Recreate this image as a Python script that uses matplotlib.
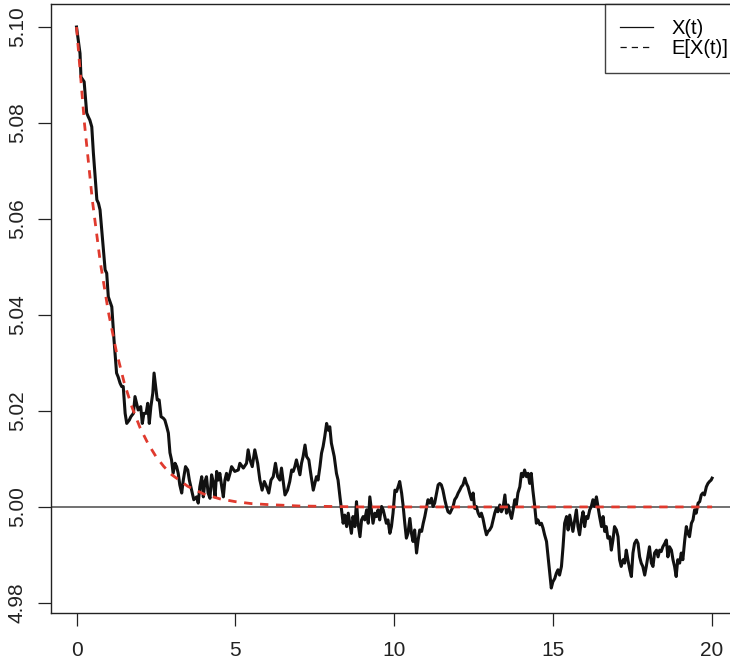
import numpy as np
import matplotlib
matplotlib.use("Agg")
import matplotlib.pyplot as plt
from matplotlib.lines import Line2D

plt.rcParams['font.family'] = ['Liberation Sans', 'DejaVu Sans']

# ---- data ----
t_obs = [0.00, 0.11, 0.14, 0.24, 0.32, 0.37, 0.42, 0.48, 0.53, 0.64, 0.69, 0.74, 0.84, 0.90, 0.95,
         1.00, 1.11, 1.18, 1.26, 1.31, 1.37, 1.42, 1.47, 1.53, 1.58, 1.66, 1.71, 1.79, 1.84, 1.89,
         1.94, 2.02, 2.07, 2.12, 2.19, 2.24, 2.29, 2.34, 2.40, 2.44, 2.49, 2.54, 2.60, 2.66, 2.73,
         2.78, 2.84, 2.89, 2.94, 2.99, 3.04, 3.10, 3.15, 3.20, 3.25, 3.31, 3.36, 3.43, 3.50, 3.55,
         3.62, 3.69, 3.78, 3.83, 3.88, 3.94, 3.99, 4.04, 4.09, 4.14, 4.20, 4.25, 4.30, 4.36, 4.41,
         4.46, 4.51, 4.57, 4.62, 4.67, 4.72, 4.77, 4.83, 4.88, 4.98, 5.09, 5.14, 5.25, 5.35, 5.40,
         5.46, 5.53, 5.61, 5.70, 5.77, 5.84, 5.91, 5.98, 6.05, 6.12, 6.19, 6.26, 6.33, 6.40, 6.45,
         6.50, 6.56, 6.64, 6.71, 6.77, 6.82, 6.87, 6.92, 6.97, 7.03, 7.08, 7.13, 7.19, 7.24, 7.31,
         7.37, 7.45, 7.50, 7.55, 7.60, 7.66, 7.71, 7.76, 7.81, 7.87, 7.92, 7.97, 8.02, 8.11, 8.18,
         8.23, 8.29, 8.34, 8.39, 8.44, 8.50, 8.55, 8.60, 8.65, 8.70, 8.76, 8.81, 8.86, 8.92, 8.97,
         9.02, 9.07, 9.13, 9.18, 9.23, 9.28, 9.33, 9.39, 9.44, 9.49, 9.54, 9.60, 9.65, 9.70, 9.75,
         9.80, 9.86, 9.91, 9.96, 10.02, 10.07, 10.12, 10.17, 10.23, 10.28, 10.33, 10.38, 10.43, 10.49, 10.54,
         10.59, 10.64, 10.70, 10.75, 10.80, 10.86, 10.91, 10.96, 11.01, 11.06, 11.12, 11.17, 11.22, 11.27, 11.33,
         11.38, 11.43, 11.48, 11.53, 11.59, 11.64, 11.69, 11.75, 11.80, 11.85, 11.90, 11.96, 12.01, 12.06, 12.11,
         12.16, 12.22, 12.27, 12.32, 12.37, 12.43, 12.48, 12.53, 12.58, 12.64, 12.69, 12.74, 12.79, 12.85, 12.90,
         12.95, 13.00, 13.06, 13.11, 13.16, 13.21, 13.26, 13.32, 13.37, 13.42, 13.48, 13.53, 13.58, 13.63, 13.69,
         13.74, 13.79, 13.84, 13.89, 13.95, 14.00, 14.05, 14.10, 14.16, 14.21, 14.26, 14.31, 14.36, 14.42, 14.47,
         14.52, 14.58, 14.63, 14.68, 14.73, 14.79, 14.84, 14.89, 14.94, 14.99, 15.05, 15.10, 15.15, 15.20, 15.26,
         15.31, 15.36, 15.42, 15.47, 15.52, 15.57, 15.62, 15.68, 15.73, 15.78, 15.83, 15.89, 15.94, 15.99, 16.04,
         16.09, 16.15, 16.20, 16.25, 16.30, 16.36, 16.41, 16.46, 16.52, 16.57, 16.62, 16.67, 16.72, 16.78, 16.83,
         16.88, 16.93, 16.99, 17.04, 17.09, 17.14, 17.20, 17.25, 17.30, 17.35, 17.41, 17.46, 17.51, 17.56, 17.62,
         17.67, 17.72, 17.77, 17.82, 17.88, 17.93, 17.98, 18.03, 18.09, 18.14, 18.19, 18.25, 18.30, 18.35, 18.40,
         18.45, 18.51, 18.56, 18.61, 18.66, 18.72, 18.77, 18.82, 18.87, 18.92, 18.98, 19.03, 19.08, 19.14, 19.19,
         19.24, 19.29, 19.35, 19.40, 19.45, 19.50, 19.56, 19.61, 19.66, 19.71, 19.76, 19.82, 19.87, 19.92, 19.97,
         20.00]

x_obs = [5.1000, 5.0945, 5.0896, 5.0886, 5.0821, 5.0813, 5.0806, 5.0792, 5.0738, 5.0640, 5.0633, 5.0619, 5.0542, 5.0494, 5.0487,
         5.0438, 5.0417, 5.0348, 5.0279, 5.0271, 5.0258, 5.0251, 5.0251, 5.0195, 5.0174, 5.0181, 5.0188, 5.0195, 5.0230, 5.0216,
         5.0202, 5.0209, 5.0174, 5.0195, 5.0195, 5.0216, 5.0174, 5.0209, 5.0237, 5.0279, 5.0251, 5.0223, 5.0223, 5.0188, 5.0185,
         5.0181, 5.0167, 5.0154, 5.0113, 5.0098, 5.0070, 5.0091, 5.0084, 5.0070, 5.0046, 5.0029, 5.0056, 5.0084, 5.0077, 5.0056,
         5.0035, 5.0015, 5.0021, 5.0008, 5.0042, 5.0063, 5.0021, 5.0053, 5.0063, 5.0029, 5.0018, 5.0067, 5.0053, 5.0021, 5.0074,
         5.0056, 5.0070, 5.0042, 5.0021, 5.0056, 5.0070, 5.0056, 5.0070, 5.0084, 5.0074, 5.0077, 5.0091, 5.0081, 5.0091, 5.0119,
         5.0098, 5.0084, 5.0119, 5.0091, 5.0056, 5.0035, 5.0053, 5.0042, 5.0029, 5.0056, 5.0063, 5.0091, 5.0063, 5.0056, 5.0081,
         5.0056, 5.0025, 5.0035, 5.0053, 5.0077, 5.0074, 5.0084, 5.0098, 5.0084, 5.0067, 5.0091, 5.0105, 5.0129, 5.0105, 5.0098,
         5.0070, 5.0035, 5.0049, 5.0063, 5.0056, 5.0084, 5.0112, 5.0126, 5.0146, 5.0174, 5.0160, 5.0167, 5.0133, 5.0105, 5.0070,
         5.0056, 5.0021, 4.9994, 4.9966, 4.9983, 4.9959, 4.9987, 4.9966, 4.9945, 4.9980, 4.9959, 5.0011, 4.9966, 4.9938, 4.9973,
         4.9980, 4.9973, 4.9994, 4.9966, 5.0021, 4.9994, 4.9966, 4.9987, 4.9980, 4.9994, 4.9973, 5.0001, 4.9994, 4.9980, 4.9966,
         4.9973, 4.9945, 4.9959, 4.9987, 5.0035, 5.0032, 5.0042, 5.0053, 5.0029, 5.0001, 4.9966, 4.9935, 4.9945, 4.9976, 4.9945,
         4.9928, 4.9952, 4.9904, 4.9931, 4.9952, 4.9949, 4.9966, 4.9980, 4.9997, 5.0015, 5.0008, 5.0018, 5.0001, 5.0008, 5.0029,
         5.0046, 5.0049, 5.0046, 5.0035, 5.0015, 5.0001, 4.9990, 4.9987, 4.9994, 5.0001, 5.0015, 5.0021, 5.0029, 5.0035, 5.0042,
         5.0046, 5.0060, 5.0049, 5.0042, 5.0029, 5.0015, 5.0029, 4.9997, 5.0001, 4.9987, 4.9980, 4.9987, 4.9976, 4.9956, 4.9942,
         4.9949, 4.9952, 4.9959, 4.9973, 4.9987, 4.9997, 4.9990, 5.0004, 4.9990, 4.9997, 5.0025, 4.9987, 5.0004, 4.9990, 4.9976,
         4.9994, 5.0015, 5.0004, 5.0029, 5.0042, 5.0070, 5.0063, 5.0077, 5.0063, 5.0070, 5.0049, 5.0070, 5.0035, 5.0001, 4.9966,
         4.9973, 4.9963, 4.9966, 4.9956, 4.9942, 4.9928, 4.9896, 4.9862, 4.9831, 4.9844, 4.9851, 4.9862, 4.9869, 4.9858, 4.9876,
         4.9917, 4.9966, 4.9980, 4.9952, 4.9983, 4.9966, 4.9949, 4.9973, 4.9994, 4.9959, 4.9942, 4.9973, 4.9990, 4.9959, 4.9980,
         4.9976, 4.9994, 5.0001, 5.0015, 5.0001, 5.0021, 5.0001, 4.9980, 4.9959, 4.9980, 4.9949, 4.9959, 4.9935, 4.9938, 4.9910,
         4.9931, 4.9959, 4.9952, 4.9938, 4.9890, 4.9876, 4.9890, 4.9883, 4.9910, 4.9890, 4.9869, 4.9855, 4.9904, 4.9924, 4.9931,
         4.9924, 4.9896, 4.9883, 4.9876, 4.9858, 4.9876, 4.9896, 4.9917, 4.9883, 4.9876, 4.9904, 4.9910, 4.9896, 4.9910, 4.9907,
         4.9917, 4.9924, 4.9931, 4.9896, 4.9917, 4.9910, 4.9890, 4.9876, 4.9855, 4.9890, 4.9883, 4.9904, 4.9890, 4.9931, 4.9959,
         4.9945, 4.9938, 4.9966, 4.9973, 4.9994, 4.9987, 5.0008, 5.0011, 5.0025, 5.0029, 5.0025, 5.0042, 5.0049, 5.0053, 5.0056,
         5.0060]

t_exp = [0.0, 0.25, 0.5, 0.75, 1.0, 1.25, 1.5, 1.75, 2.0, 2.25, 2.5, 2.75, 3.0, 3.5, 4.0, 4.5,
         5.0, 5.5, 6.0, 7.0, 8.0, 9.0, 20.0]
x_exp = [5.1000, 5.0799, 5.0638, 5.0509, 5.0407, 5.0325, 5.0259, 5.0207, 5.0165, 5.0132, 5.0105, 5.0084,
         5.0067, 5.0043, 5.0027, 5.0017, 5.0011, 5.0007, 5.0005, 5.0002, 5.0001, 5.0000, 5.0000]

mu = 5.0
x_ticks = [0, 5, 10, 15, 20]
y_ticks = [4.98, 5.00, 5.02, 5.04, 5.06, 5.08, 5.10]
y_ticklabels = ["4.98", "5.00", "5.02", "5.04", "5.06", "5.08", "5.10"]
legend_labels = ["X(t)", "E[X(t)]"]

# ---- figure ----
W, H = 730, 665
dpi = 100
fig = plt.figure(figsize=(W / dpi, H / dpi), dpi=dpi)
ax_left, ax_right, ax_bottom, ax_top = 51.1, 737.5, 613.0, 4.0
ax = fig.add_axes([ax_left / W, 1 - ax_bottom / H, (ax_right - ax_left) / W, (ax_bottom - ax_top) / H])

ax.set_xlim(-0.8, 20.8)
ax.set_ylim(4.9779, 5.1048)

ax.axhline(mu, color="#4a4a4a", lw=1.1, zorder=1)
ax.plot(t_obs, x_obs, color="#111111", lw=2.2, solid_joinstyle="round", zorder=2)
red_lw = 2.0
ax.plot(t_exp, x_exp, color="#e03a2e", lw=red_lw, dashes=(6.0 / red_lw, 5.5 / red_lw), zorder=3)

for s in ax.spines.values():
    s.set_color("#222222")
    s.set_linewidth(1.0)

ax.set_xticks(x_ticks)
ax.set_xticklabels([str(v) for v in x_ticks])
ax.set_yticks(y_ticks)
ax.set_yticklabels(y_ticklabels, rotation=90, va="center")
ax.tick_params(axis="both", direction="out", length=9.5, width=0.9, color="#222222",
               labelsize=15, labelcolor="#222222")
ax.tick_params(axis="x", pad=11)
ax.tick_params(axis="y", pad=8)

handles = [Line2D([], [], color="#111111", lw=0.9),
           Line2D([], [], color="#111111", lw=0.9, dashes=(5, 4))]
# legend anchored at its upper-left corner (it runs past the cropped right edge)
leg_x = (605 - ax_left) / (ax_right - ax_left)
leg = ax.legend(handles, legend_labels, loc="upper left", bbox_to_anchor=(leg_x, 1.0),
                fontsize=14.5, frameon=True, fancybox=False, borderaxespad=0.0,
                handlelength=1.65, handletextpad=0.9, borderpad=0.75,
                labelspacing=0.05, edgecolor="#111111")
leg.get_frame().set_linewidth(1.0)

fig.savefig("out.png", dpi=dpi)
